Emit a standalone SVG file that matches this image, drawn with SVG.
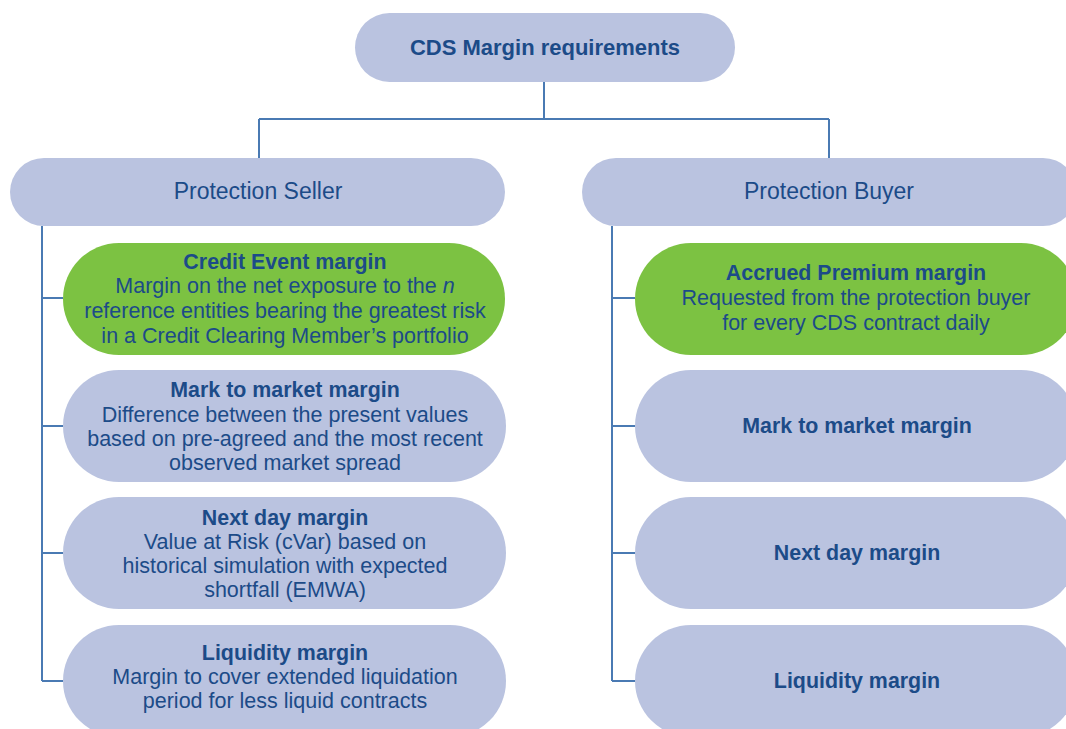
<svg xmlns="http://www.w3.org/2000/svg" width="1066" height="729" viewBox="0 0 1066 729">
<style>
.lav{fill:#BAC3E0}
.grn{fill:#7CC242}
text{font-family:"Liberation Sans",Arial,sans-serif;fill:#1C4B88;text-anchor:middle}
.t{font-size:22px;font-weight:bold}
.h{font-size:23px}
.b{font-size:21.4px;font-weight:bold}
.n{font-size:21.5px}
.c{fill:none;stroke:#4A7AB3;stroke-width:2}
</style>
<rect width="1066" height="729" fill="#FFFFFF"/>
<g id="connectors">
<path class="c" d="M544 82 V119 M259 119 H829 M259 119 V158 M829 119 V158"/>
<path class="c" d="M42 226 V681 M42 298 H63 M42 426 H63 M42 553 H63 M42 681 H63"/>
<path class="c" d="M612 226 V681 M612 298 H635 M612 426 H635 M612 553 H635 M612 681 H635"/>
</g>
<g id="root"><rect class="lav" x="355" y="13" width="380" height="69" rx="34.5"/><text class="t" x="545" y="55">CDS Margin requirements</text></g>
<g id="seller"><rect class="lav" x="10" y="158" width="495" height="68" rx="34"/><text class="h" x="258" y="199">Protection Seller</text></g>
<g id="buyer"><rect class="lav" x="582" y="158" width="495" height="68" rx="34"/><text class="h" x="829" y="199">Protection Buyer</text></g>
<g id="s-credit"><rect class="grn" x="63" y="243" width="442" height="112" rx="56"/>
<text class="b" x="285" y="269">Credit Event margin</text>
<text class="n" x="285" y="293">Margin on the net exposure to the <tspan font-style="italic">n</tspan></text>
<text class="n" x="285" y="318">reference entities bearing the greatest risk</text>
<text class="n" x="285" y="343">in a Credit Clearing Member’s portfolio</text></g>
<g id="s-mtm"><rect class="lav" x="63" y="370" width="443" height="112" rx="56"/>
<text class="b" x="285" y="397">Mark to market margin</text>
<text class="n" x="285" y="422">Difference between the present values</text>
<text class="n" x="285" y="446">based on pre-agreed and the most recent</text>
<text class="n" x="285" y="470">observed market spread</text></g>
<g id="s-next"><rect class="lav" x="63" y="497" width="443" height="112" rx="56"/>
<text class="b" x="285" y="525">Next day margin</text>
<text class="n" x="285" y="549">Value at Risk (cVar) based on</text>
<text class="n" x="285" y="573">historical simulation with expected</text>
<text class="n" x="285" y="597">shortfall (EMWA)</text></g>
<g id="s-liq"><rect class="lav" x="63" y="625" width="443" height="112" rx="56"/>
<text class="b" x="285" y="660">Liquidity margin</text>
<text class="n" x="285" y="684">Margin to cover extended liquidation</text>
<text class="n" x="285" y="708">period for less liquid contracts</text></g>
<g id="b-accrued"><rect class="grn" x="635" y="243" width="442" height="112" rx="56"/>
<text class="b" x="856" y="280">Accrued Premium margin</text>
<text class="n" x="856" y="305">Requested from the protection buyer</text>
<text class="n" x="856" y="330">for every CDS contract daily</text></g>
<g id="b-mtm"><rect class="lav" x="635" y="370" width="442" height="112" rx="56"/><text class="b" x="857" y="433">Mark to market margin</text></g>
<g id="b-next"><rect class="lav" x="635" y="497" width="442" height="112" rx="56"/><text class="b" x="857" y="560">Next day margin</text></g>
<g id="b-liq"><rect class="lav" x="635" y="625" width="442" height="112" rx="56"/><text class="b" x="857" y="688">Liquidity margin</text></g>
</svg>
